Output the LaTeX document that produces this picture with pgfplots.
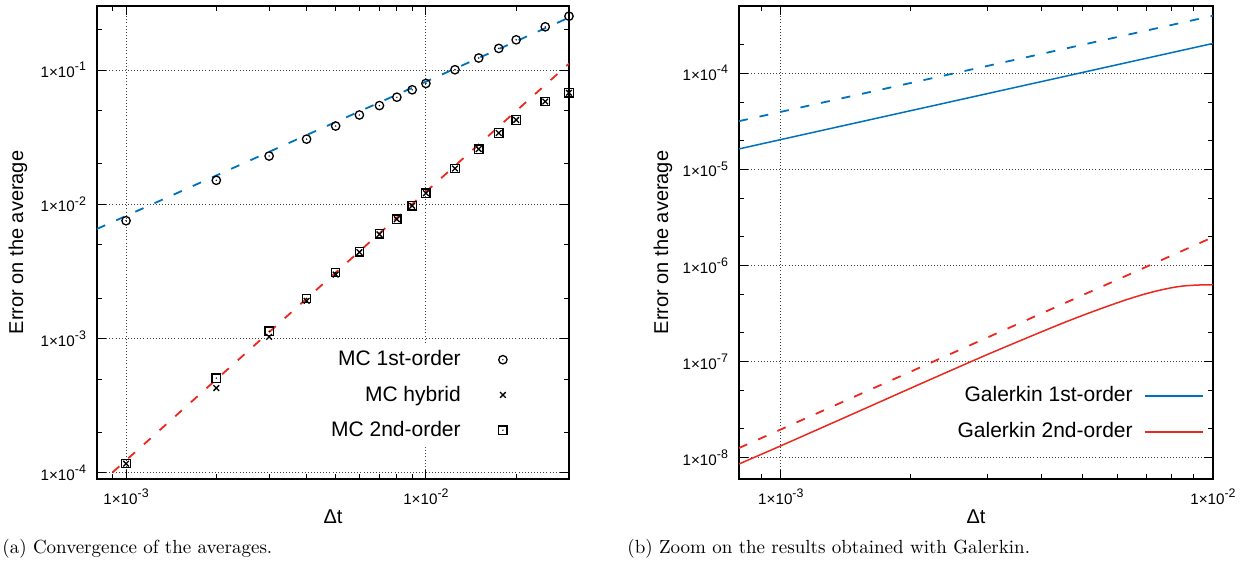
\documentclass[border=0pt]{standalone}
\usepackage{fontspec}
\usepackage{pgfplots}
\pgfplotsset{compat=1.18}
\newfontfamily\plotfont{Liberation Sans}
\definecolor{gblue}{RGB}{0,114,189}
\definecolor{gred}{RGB}{234,40,30}
\newcommand\sci[1]{1×10\raisebox{3.4pt}{\fontsize{6.2}{7}\selectfont #1}}

\pgfdeclareplotmark{odot}{%
  \pgfpathcircle{\pgfpointorigin}{\pgfplotmarksize}\pgfusepathqstroke
  \pgfpathcircle{\pgfpointorigin}{0.4pt}\pgfusepathqfill}
\pgfdeclareplotmark{sdot}{%
  \pgfpathrectangle{\pgfpoint{-\pgfplotmarksize}{-\pgfplotmarksize}}{\pgfpoint{2\pgfplotmarksize}{2\pgfplotmarksize}}\pgfusepathqstroke
  \pgfpathcircle{\pgfpointorigin}{0.4pt}\pgfusepathqfill}

\pgfplotsset{
  every axis/.append style={
    scale only axis,
    axis line style={line width=0.9pt},
    tick align=inside,
    major tick length=4.5pt, minor tick length=2.5pt,
    every tick/.style={black, line width=0.5pt},
    grid=major,
    major grid style={line width=0.45pt, black!75, dash pattern=on 0.45pt off 1.1pt},
    ticklabel style={font=\plotfont\fontsize{7.6}{8}\selectfont},
    legend style={font=\plotfont\fontsize{10.5}{12}\selectfont, draw=none, fill=white},
    legend plot pos=right,
    legend cell align=right,
    xticklabel style={yshift=-1.5pt},
    yticklabel style={xshift=-2pt},
  }
}

\begin{document}
\begin{tikzpicture}
\path[use as bounding box] (0,0) rectangle (629pt,-284pt);

\begin{axis}[xmode=log, ymode=log,
  at={(48.5pt,-239.5pt)}, anchor=south west,
  width=236pt, height=236.5pt,
  xmin=8e-4, xmax=3e-2, ymin=9e-5, ymax=0.3,
  xtick={1e-3,1e-2},
  xticklabels={\sci{-3}, \sci{-2}},
  minor xtick={9e-4,2e-3,3e-3,4e-3,5e-3,6e-3,7e-3,8e-3,9e-3,2e-2},
  ytick={1e-4,1e-3,1e-2,1e-1},
  yticklabels={\sci{-4}, \sci{-3}, \sci{-2}, \sci{-1}},
  minor ytick={2e-4,5e-4,2e-3,5e-3,2e-2,5e-2,2e-1},
  xlabel={Δt},
  ylabel={Error on the average},
  every axis x label/.style={at={(axis description cs:0.5,0)}, yshift=-19pt, anchor=center, font=\plotfont\fontsize{10}{12}\selectfont},
  every axis y label/.style={at={(axis description cs:0,0.5)}, xshift=-39.5pt, rotate=90, anchor=center, font=\plotfont\fontsize{10}{12}\selectfont},
  legend style={at={(axis description cs:0.874,0.285)}, anchor=north east, row sep=4.5pt, column sep=17pt, inner sep=1pt},
  legend image code/.code={\draw[#1] plot coordinates {(0.3cm,0cm)};},
]
\addplot[gblue, line width=0.9pt, dash pattern=on 4.5pt off 6pt, forget plot] coordinates {(8e-4,6.56e-3) (3e-2,0.246)};
\addplot[gred, line width=0.9pt, dash pattern=on 4.5pt off 6pt, forget plot] coordinates {(8e-4,7.94e-5) (3e-2,0.1116)};
\addplot[only marks, mark=odot, mark size=2.1pt, mark options={line width=0.65pt, black}] coordinates {
(1e-3,7.55e-3) (2e-3,1.51e-2) (3e-3,2.29e-2) (4e-3,3.06e-2) (5e-3,3.83e-2) (6e-3,4.63e-2)
(7e-3,5.44e-2) (8e-3,6.28e-2) (9e-3,7.13e-2) (1e-2,7.95e-2) (1.25e-2,0.1006) (1.5e-2,0.123)
(1.75e-2,0.145) (2e-2,0.168) (2.5e-2,0.21) (3e-2,0.252)};
\addlegendentry{MC 1st-order}
\addplot[only marks, mark=x, mark size=2pt, mark options={line width=0.65pt, black}] coordinates {
(1e-3,1.17e-4) (2e-3,4.28e-4) (3e-3,1.03e-3) (4e-3,1.91e-3) (5e-3,3.0e-3) (6e-3,4.4e-3)
(7e-3,5.98e-3) (8e-3,7.75e-3) (9e-3,9.75e-3) (1e-2,1.21e-2) (1.25e-2,1.85e-2) (1.5e-2,2.58e-2)
(1.75e-2,3.40e-2) (2e-2,4.25e-2) (2.5e-2,5.83e-2) (3e-2,6.77e-2)};
\addlegendentry{MC hybrid}
\addplot[only marks, mark=sdot, mark size=2.1pt, mark options={line width=0.65pt, black}] coordinates {
(1e-3,1.175e-4) (2e-3,5.08e-4) (3e-3,1.135e-3) (4e-3,1.99e-3) (5e-3,3.1e-3) (6e-3,4.43e-3)
(7e-3,6.02e-3) (8e-3,7.77e-3) (9e-3,9.77e-3) (1e-2,1.21e-2) (1.25e-2,1.85e-2) (1.5e-2,2.58e-2)
(1.75e-2,3.40e-2) (2e-2,4.25e-2) (2.5e-2,5.83e-2) (3e-2,6.77e-2)};
\addlegendentry{MC 2nd-order}
\end{axis}

\begin{axis}[xmode=log, ymode=log,
  at={(369.5pt,-239.5pt)}, anchor=south west,
  width=237pt, height=236.5pt,
  xmin=8e-4, xmax=1e-2, ymin=6e-9, ymax=5e-4,
  xtick={1e-3,1e-2},
  xticklabels={\sci{-3}, \sci{-2}},
  minor xtick={9e-4,2e-3,3e-3,4e-3,5e-3,6e-3,7e-3,8e-3,9e-3},
  ytick={1e-8,1e-7,1e-6,1e-5,1e-4},
  yticklabels={\sci{-8}, \sci{-7}, \sci{-6}, \sci{-5}, \sci{-4}},
  minor ytick={2e-8,5e-8,2e-7,5e-7,2e-6,5e-6,2e-5,5e-5,2e-4},
  xlabel={Δt},
  ylabel={Error on the average},
  every axis x label/.style={at={(axis description cs:0.5,0)}, yshift=-19pt, anchor=center, font=\plotfont\fontsize{10}{12}\selectfont},
  every axis y label/.style={at={(axis description cs:0,0.5)}, xshift=-38pt, rotate=90, anchor=center, font=\plotfont\fontsize{10}{12}\selectfont},
  legend style={at={(axis description cs:0.985,0.209)}, anchor=north east, row sep=5pt, column sep=3.5pt, inner sep=1pt},
  legend image code/.code={\draw[#1, line width=0.9pt] (0pt,0pt) -- (29pt,0pt);},
]
\addplot[gblue, line width=0.9pt, dash pattern=on 4.5pt off 6pt, forget plot] coordinates {(8e-4,3.17e-5) (1e-2,3.96e-4)};
\addplot[gred, line width=0.9pt, dash pattern=on 4.5pt off 6pt, forget plot] coordinates {(8e-4,1.26e-8) (1e-2,1.97e-6)};
\addplot[gblue, line width=0.75pt] coordinates {(8e-4,1.63e-5) (1e-3,2.04e-5) (2e-3,4.08e-5) (5e-3,1.02e-4) (1e-2,2.04e-4)};
\addlegendentry{Galerkin 1st-order}
\addplot[gred, line width=0.75pt, smooth] coordinates {
(8e-4,8.6e-9) (1e-3,1.33e-8) (1.5e-3,2.98e-8) (2e-3,5.3e-8) (2.5e-3,8.25e-8) (3e-3,1.18e-7)
(3.5e-3,1.58e-7) (4e-3,2.03e-7) (4.5e-3,2.52e-7) (5e-3,3.03e-7) (5.5e-3,3.55e-7) (6e-3,4.08e-7)
(6.5e-3,4.6e-7) (7e-3,5.08e-7) (7.5e-3,5.5e-7) (8e-3,5.85e-7) (8.5e-3,6.1e-7) (9e-3,6.22e-7)
(9.5e-3,6.28e-7) (1e-2,6.3e-7)};
\addlegendentry{Galerkin 2nd-order}
\end{axis}

\node[anchor=base west, inner sep=0pt, font=\fontsize{9.5}{11}\selectfont] at (1pt,-276.5pt) {(a) Convergence of the averages.};
\node[anchor=base west, inner sep=0pt, font=\fontsize{9.5}{11}\selectfont] at (313.5pt,-276.5pt) {(b) Zoom on the results obtained with Galerkin.};
\end{tikzpicture}
\end{document}
